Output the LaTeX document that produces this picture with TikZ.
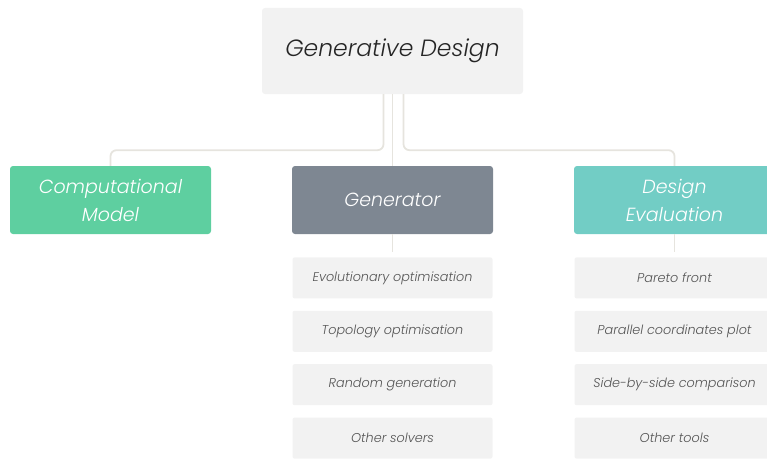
\documentclass[tikz,border=0pt]{standalone}
\usepackage{fontspec}
\setmainfont{Poppins}[ItalicFont=* Light Italic]
\usetikzlibrary{positioning}

\definecolor{boxgray}{HTML}{F2F2F2}
\definecolor{cmgreen}{HTML}{5ECFA0}
\definecolor{gengray}{HTML}{7E8792}
\definecolor{evalteal}{HTML}{72CDC5}
\definecolor{linkgray}{HTML}{E6E4DE}
\definecolor{itemtext}{HTML}{555555}

\tikzset{
    root/.style={fill=boxgray, rounded corners=3pt, minimum width=261pt, minimum height=86pt,
        inner sep=0pt, text=black!85, font=\fontsize{23.5}{27}\selectfont\itshape},
    head/.style={rounded corners=3pt, minimum width=201pt, minimum height=68pt, inner sep=0pt,
        align=center, text=white, font=\fontsize{19}{28}\selectfont\itshape},
    item/.style={fill=boxgray, rounded corners=2pt, minimum width=200pt, minimum height=41pt,
        inner sep=0pt, text=itemtext, font=\fontsize{12.8}{15}\selectfont\itshape},
    link/.style={draw=linkgray, line width=1.8pt, rounded corners=6pt},
}

\begin{document}
\begin{tikzpicture}[x=1pt, y=-1pt]
    \useasboundingbox (0,0) rectangle (767,460);

    \node[root] (gd) at (392.5,51) {Generative Design};

    \node[head, fill=cmgreen] (cm) at (110.5,200) {Computational\\Model};
    \node[head, fill=gengray] (gen) at (392.5,200) {Generator};
    \node[head, fill=evalteal] (eval) at (674.5,200) {Design\\Evaluation};

    % generator column
    \node[item, below=23pt of gen] (evo) {Evolutionary optimisation};
    \node[item, below=12pt of evo] (topo) {Topology optimisation};
    \node[item, below=12pt of topo] (rand) {Random generation};
    \node[item, below=12pt of rand] (solv) {Other solvers};

    % evaluation column
    \node[item, below=23pt of eval] (pareto) {Pareto front};
    \node[item, below=12pt of pareto] (pcp) {Parallel coordinates plot};
    \node[item, below=12pt of pcp] (sbs) {Side-by-side comparison};
    \node[item, below=12pt of sbs] (tools) {Other tools};

    % tree lines
    \draw[link] ([xshift=-9pt]gd.south) -- ++(0,56) -| (cm.north);
    \draw[link] ([xshift=11pt]gd.south) -- ++(0,56) -| (eval.north);
    \draw[link] (gd.south) -- (gen.north);

    \draw[link, shorten >=5pt] (gen.south) -- (evo.north);
    \draw[link, shorten >=5pt] (eval.south) -- (pareto.north);
\end{tikzpicture}
\end{document}
